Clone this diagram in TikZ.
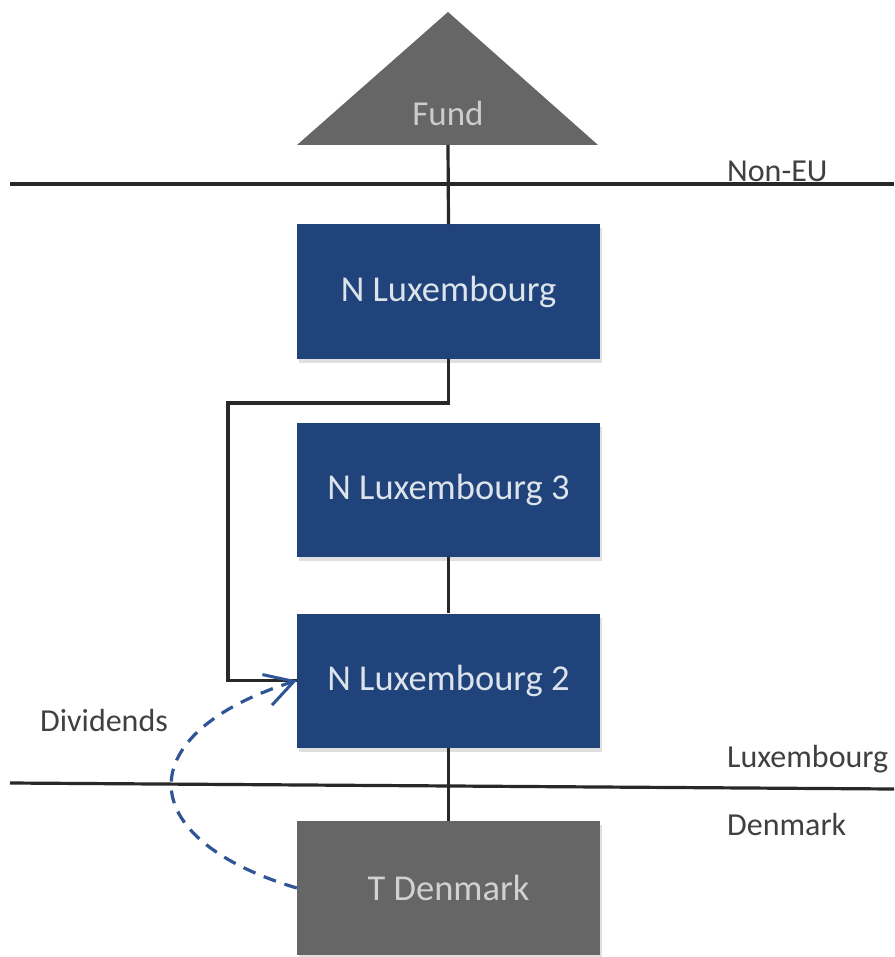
\documentclass[tikz,border=0pt]{standalone}
\usepackage{fontspec}
\setmainfont{Carlito}
\usetikzlibrary{arrows.meta,shadows}
\definecolor{boxblue}{RGB}{31,67,122}
\definecolor{boxgray}{RGB}{102,102,102}
\definecolor{dashblue}{RGB}{47,85,151}
\definecolor{labelgray}{RGB}{64,64,64}
\definecolor{linegray}{RGB}{40,40,40}
\begin{document}
\begin{tikzpicture}[x=1pt,y=1pt,
  entity/.style={fill=boxblue, minimum width=303pt, minimum height=134pt,
    inner sep=0pt, text=white!85!boxblue, font=\fontsize{36.5}{40}\selectfont,
    drop shadow={shadow xshift=2pt, shadow yshift=-4pt, opacity=0.25}},
  target/.style={entity, fill=boxgray, text=white!82!black},
  link/.style={draw=linegray, line width=3.2pt},
  border/.style={draw=linegray, line width=3.2pt},
  region/.style={text=labelgray, font=\fontsize{32}{36}\selectfont, inner sep=0pt},
  dividend/.style={draw=dashblue, line width=3.2pt, dash pattern=on 13pt off 9pt,
    -{Straight Barb[length=28pt, width=32pt, line width=3pt]}}]
\useasboundingbox (0,0) rectangle (894,-957);

% fund at the top
\fill[boxgray] (297,-145) -- (448,-12) -- (598,-145) -- cycle;
\node[text=white!80!black, font=\fontsize{35}{40}\selectfont] (fund) at (448,-113) {Fund};
\coordinate (fundbase) at (448,-145);

% jurisdiction boundaries
\draw[border] (10,-184) -- (894,-184);
\draw[border] (10,-783) -- (894,-789);
\node[region, anchor=base west] (noneu) at (727,-182) {Non-EU};
\node[region, anchor=base west] (luxlabel) at (727,-767) {Luxembourg};
\node[region, anchor=base west] (dklabel) at (727,-835) {Denmark};
\node[region, anchor=base west] (divlabel) at (40,-731) {Dividends};

% entities
\node[entity] (lux)  at (448.5,-291.5) {N Luxembourg};
\node[entity] (lux3) at (448.5,-490)   {N Luxembourg 3};
\node[entity] (lux2) at (448.5,-680.5) {N Luxembourg 2};
\node[target] (tden) at (448.5,-888)   {T Denmark};

% ownership links
\draw[link] (fundbase) -- (lux.north);
\draw[link] (lux3.south) -- (lux2.north);
\draw[link] (lux2.south) -- (tden.north);
\coordinate (bend) at (228,-403);
\draw[link] (lux.south) |- (bend) |- (lux2.west);

% dividend flow
\draw[dividend] (tden.west) .. controls (130,-838) and (130,-733) .. (lux2.west);
\end{tikzpicture}
\end{document}
